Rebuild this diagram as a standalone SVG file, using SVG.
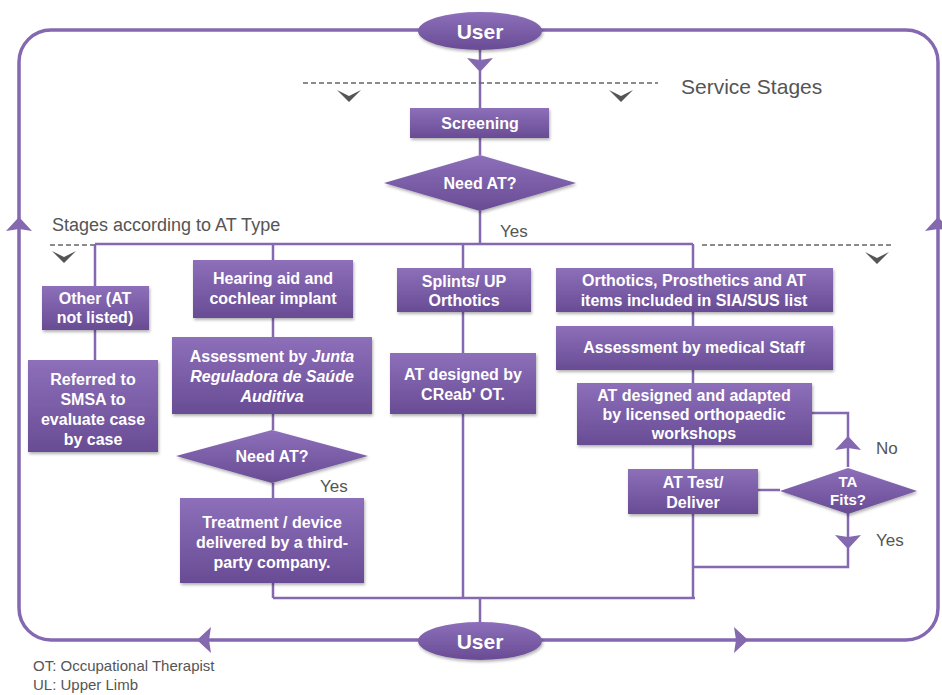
<svg xmlns="http://www.w3.org/2000/svg" width="942" height="695" viewBox="0 0 942 695">
<defs>
<linearGradient id="g" x1="0" y1="0" x2="0" y2="1">
<stop offset="0" stop-color="#8d6fba"/>
<stop offset="1" stop-color="#684c94"/>
</linearGradient>
<filter id="sh" x="-10%" y="-10%" width="130%" height="140%">
<feDropShadow dx="1" dy="2" stdDeviation="1.5" flood-color="#000" flood-opacity="0.3"/>
</filter>
<polygon id="ah" points="0,0 13,14 0,12 -13,14"/>
<polygon id="chev" points="0,0 -12,-12 0,-6 12,-12"/>
</defs>
<style>
.box{fill:url(#g);filter:url(#sh)}
.t{font-family:"Liberation Sans",Arial,sans-serif;font-weight:bold;font-size:16px;fill:#fff;text-anchor:middle}
.u{font-size:21px}
.s{font-size:15px}
.lbl{font-family:"Liberation Sans",Arial,sans-serif;fill:#555}
.ln{fill:none;stroke:#8468b0;stroke-width:2.5}
.outer{fill:none;stroke:#8468b0;stroke-width:3.5}
.dash{stroke:#666;stroke-width:1.5;stroke-dasharray:5,3;fill:none}
.arr{fill:#8468b0}
.gc{fill:#555}
</style>

<g id="connectors">
<rect class="outer" x="19" y="30" width="919" height="610" rx="32"/>
<path class="ln" d="M480 50V108M480 138V155M480 211V244M95 244H693M95 244V286M95 330V360M273 244V260M273 318V337M273 414V430M273 483V498M273 583V598M463 244V598M693 244V268M693 312V326M693 370V383M693 445V469M693 514V598M273 598H695M480 598V622M812 413H848V467M758 490H780M848 513V567H693"/>
<use href="#ah" class="arr" transform="translate(480,72) rotate(180)"/>
<use href="#ah" class="arr" transform="translate(19,217)"/>
<use href="#ah" class="arr" transform="translate(938,217)"/>
<use href="#ah" class="arr" transform="translate(197,640) rotate(-90)"/>
<use href="#ah" class="arr" transform="translate(748,640) rotate(90)"/>
<use href="#ah" class="arr" transform="translate(848,436)"/>
<use href="#ah" class="arr" transform="translate(848,549) rotate(180)"/>
</g>

<g id="stages">
<path class="dash" d="M303 83H658M50 245H94M702 245H893"/>
<use href="#chev" class="gc" transform="translate(349,102)"/>
<use href="#chev" class="gc" transform="translate(621,102)"/>
<use href="#chev" class="gc" transform="translate(64,263)"/>
<use href="#chev" class="gc" transform="translate(877,264)"/>
<text class="lbl" x="681" y="94" font-size="21">Service Stages</text>
<text class="lbl" x="52" y="231" font-size="18">Stages according to AT Type</text>
<text class="lbl" x="500" y="237" font-size="17">Yes</text>
<text class="lbl" x="320" y="492" font-size="17">Yes</text>
<text class="lbl" x="876" y="454" font-size="17">No</text>
<text class="lbl" x="876" y="546" font-size="17">Yes</text>
</g>

<g id="user-top">
<ellipse class="box" cx="480" cy="31" rx="62" ry="19"/>
<text class="t u" x="480" y="39">User</text>
</g>
<g id="screening">
<rect class="box" x="410" y="108" width="139" height="30"/>
<text class="t" x="480" y="129">Screening</text>
</g>
<g id="need-at-1">
<polygon class="box" points="480,155 576,183 480,211 384,183"/>
<text class="t" x="480" y="189">Need AT?</text>
</g>
<g id="other">
<rect class="box" x="42" y="286" width="107" height="44"/>
<text class="t" x="95" y="304">Other (AT</text>
<text class="t" x="95" y="323">not listed)</text>
</g>
<g id="referred">
<rect class="box" x="28" y="360" width="130" height="92"/>
<text class="t" x="93" y="385">Referred to</text>
<text class="t" x="93" y="405">SMSA to</text>
<text class="t" x="93" y="425">evaluate case</text>
<text class="t" x="93" y="445">by case</text>
</g>
<g id="hearing">
<rect class="box" x="193" y="260" width="160" height="58"/>
<text class="t" x="273" y="284">Hearing aid and</text>
<text class="t" x="273" y="304">cochlear implant</text>
</g>
<g id="assessment-junta">
<rect class="box" x="172" y="337" width="200" height="77"/>
<text class="t" x="272" y="362">Assessment by <tspan font-style="italic">Junta</tspan></text>
<text class="t" x="272" y="382" font-style="italic">Reguladora de Saúde</text>
<text class="t" x="272" y="402" font-style="italic">Auditiva</text>
</g>
<g id="need-at-2">
<polygon class="box" points="272,430 368,456 272,483 176,456"/>
<text class="t" x="272" y="462">Need AT?</text>
</g>
<g id="treatment">
<rect class="box" x="180" y="498" width="184" height="85"/>
<text class="t" x="272" y="528">Treatment / device</text>
<text class="t" x="272" y="548">delivered by a third-</text>
<text class="t" x="272" y="568">party company.</text>
</g>
<g id="splints">
<rect class="box" x="397" y="268" width="134" height="44"/>
<text class="t" x="464" y="287">Splints/ UP</text>
<text class="t" x="464" y="306">Orthotics</text>
</g>
<g id="creab">
<rect class="box" x="390" y="353" width="146" height="61"/>
<text class="t" x="463" y="380">AT designed by</text>
<text class="t" x="463" y="400">CReab' OT.</text>
</g>
<g id="orthotics">
<rect class="box" x="556" y="268" width="277" height="44"/>
<text class="t" x="694" y="286">Orthotics, Prosthetics and AT</text>
<text class="t" x="694" y="306">items included in SIA/SUS list</text>
</g>
<g id="assessment-medical">
<rect class="box" x="556" y="326" width="277" height="44"/>
<text class="t" x="694" y="353">Assessment by medical Staff</text>
</g>
<g id="at-designed">
<rect class="box" x="577" y="383" width="235" height="62"/>
<text class="t" x="694" y="401">AT designed and adapted</text>
<text class="t" x="694" y="420">by licensed orthopaedic</text>
<text class="t" x="694" y="439">workshops</text>
</g>
<g id="at-test">
<rect class="box" x="628" y="469" width="130" height="45"/>
<text class="t" x="693" y="488">AT Test/</text>
<text class="t" x="693" y="508">Deliver</text>
</g>
<g id="ta-fits">
<polygon class="box" points="848,468 917,491 848,514 780,491"/>
<text class="t s" x="848" y="487">TA</text>
<text class="t s" x="848" y="505">Fits?</text>
</g>
<g id="user-bottom">
<ellipse class="box" cx="480" cy="641" rx="62" ry="19"/>
<text class="t u" x="480" y="649">User</text>
</g>
<g id="legend">
<text class="lbl" x="33" y="671" font-size="15">OT: Occupational Therapist</text>
<text class="lbl" x="33" y="690" font-size="15">UL: Upper Limb</text>
</g>
</svg>
